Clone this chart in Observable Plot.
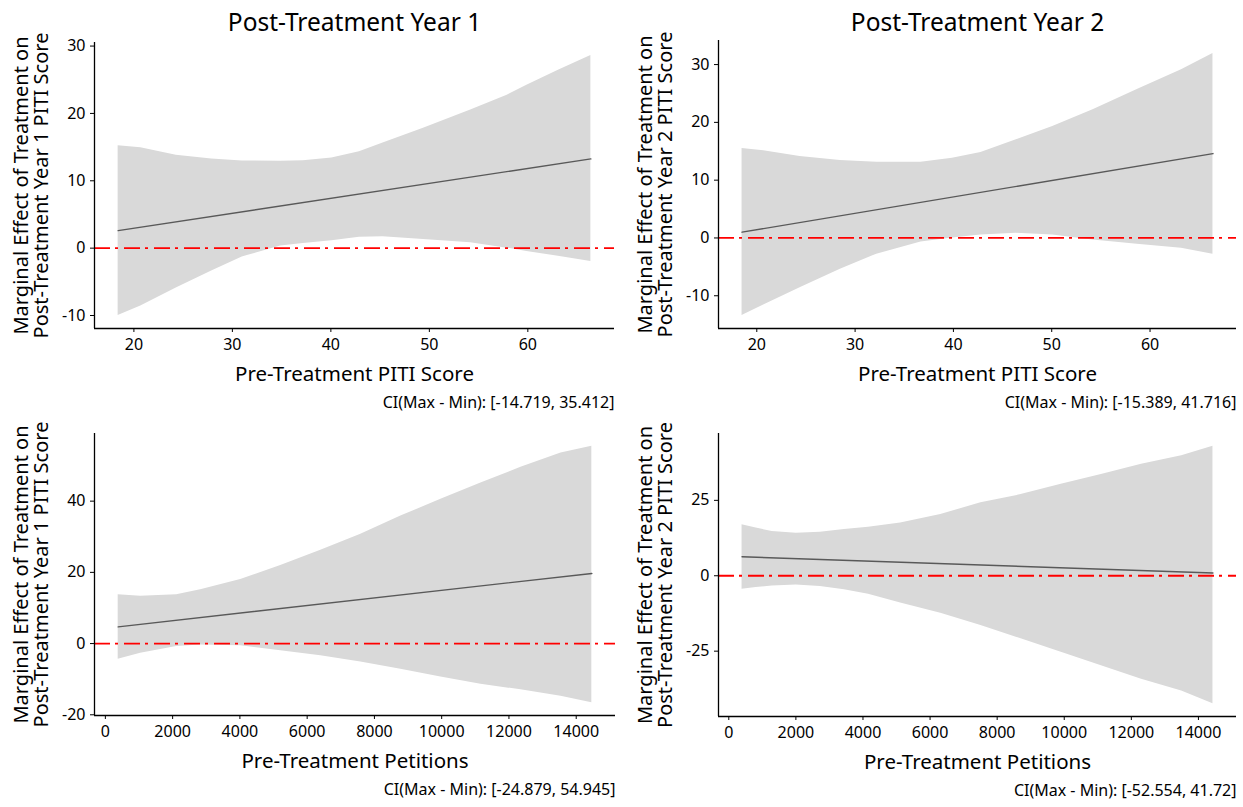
<!DOCTYPE html>
<html>
<head>
<meta charset="utf-8">
<script src="https://cdn.jsdelivr.net/npm/d3@7"></script>
<script src="https://cdn.jsdelivr.net/npm/@observablehq/plot@0.6"></script>
<style>
  html, body { margin: 0; padding: 0; background: white; }
  #page { position: relative; width: 1243px; height: 807px; font-family: "Noto Sans", sans-serif; }
  .panel { position: absolute; }
</style>
</head>
<body>
<div id="page"></div>
<script>
// ---------- Data ----------
// Panel 1: Post-Treatment Year 1 vs Pre-Treatment PITI Score
const p1X     = [18.4, 20.7, 24.3, 27.9, 31.0, 34.9, 37.2, 40.1, 42.9, 45.3, 49.4, 54.2, 57.9, 59.9, 63.1, 66.4];
const p1Upper = [15.2, 14.9, 13.8, 13.25, 12.95, 12.9, 12.96, 13.4, 14.3, 15.6, 17.8, 20.5, 22.7, 24.2, 26.4, 28.6];
const p1Lower = [-10.0, -8.6, -5.9, -3.4, -1.3, 0.3, 0.7, 1.1, 1.6, 1.7, 1.3, 0.8, 0.0, -0.5, -1.2, -2.0];
const p1MeanX = [18.4, 66.4];
const p1MeanY = [2.6, 13.25];

// Panel 2: Post-Treatment Year 2 vs Pre-Treatment PITI Score
const p2X     = [18.5, 20.7, 24.4, 28.5, 32.2, 36.7, 39.9, 42.8, 46.4, 50.1, 54.2, 58.7, 63.2, 66.4];
const p2Upper = [15.5, 15.1, 14.1, 13.4, 13.1, 13.1, 13.8, 14.8, 17.0, 19.3, 22.2, 25.7, 29.1, 31.9];
const p2Lower = [-13.4, -11.6, -8.6, -5.4, -2.8, -0.7, 0.0, 0.5, 0.8, 0.5, -0.35, -1.1, -1.8, -2.8];
const p2MeanX = [18.5, 66.4];
const p2MeanY = [1.0, 14.6];

// Panel 3: Post-Treatment Year 1 vs Pre-Treatment Petitions
const p3X     = [381, 1048, 2119, 2833, 4024, 5214, 6405, 7595, 8786, 9976, 11167, 12357, 13548, 14464];
const p3Upper = [13.7, 13.3, 13.7, 15.1, 18.0, 21.9, 26.2, 30.7, 35.8, 40.5, 45.1, 49.5, 53.5, 55.4];
const p3Lower = [-4.4, -2.7, -0.8, -0.4, -0.6, -2.0, -3.4, -5.2, -7.2, -9.4, -11.4, -13.0, -14.8, -16.6];
const p3MeanX = [381, 14464];
const p3MeanY = [4.7, 19.7];

// Panel 4: Post-Treatment Year 2 vs Pre-Treatment Petitions
const p4X     = [395, 814, 1293, 2011, 2729, 3447, 4165, 5122, 6319, 7516, 8713, 9910, 11107, 12304, 13501, 14433];
const p4Upper = [16.9, 15.8, 14.7, 14.1, 14.4, 15.3, 16.1, 17.5, 20.3, 24.2, 26.9, 30.3, 33.6, 37.0, 39.8, 42.9];
const p4Lower = [-4.5, -3.9, -3.4, -3.1, -3.6, -4.6, -6.1, -9.0, -12.4, -16.5, -20.9, -25.4, -29.8, -34.3, -38.2, -42.4];
const p4MeanX = [395, 14433];
const p4MeanY = [6.3, 0.9];

// Tick values
const pitiTicks = [20, 30, 40, 50, 60];
const petitionTicks = [0, 2000, 4000, 6000, 8000, 10000, 12000, 14000];
const p1YTicks = [-10, 0, 10, 20, 30];
const p2YTicks = [-10, 0, 10, 20, 30];
const p3YTicks = [-20, 0, 20, 40];
const p4YTicks = [-25, 0, 25];

// Texts
const titles = ["Post-Treatment Year 1", "Post-Treatment Year 2"];
const yLabels = [
  "Marginal Effect of Treatment on\nPost-Treatment Year 1 PITI Score",
  "Marginal Effect of Treatment on\nPost-Treatment Year 2 PITI Score"
];
const xLabels = ["Pre-Treatment PITI Score", "Pre-Treatment Petitions"];
const ciTexts = [
  "CI(Max - Min): [-14.719, 35.412]",
  "CI(Max - Min): [-15.389, 41.716]",
  "CI(Max - Min): [-24.879, 54.945]",
  "CI(Max - Min): [-52.554, 41.72]"
];

// ---------- Drawing ----------
function pad(e) { const r = e[1] - e[0]; return [e[0] - 0.05 * r, e[1] + 0.05 * r]; }

function panel(cfg) {
  const ribbon = cfg.xs.map((x, i) => ({x, lo: cfg.lo[i], hi: cfg.hi[i]}));
  const mean = cfg.meanX.map((x, i) => ({x, y: cfg.meanY[i]}));
  const xDom = pad(d3.extent(cfg.xs));
  const yDom = pad([d3.min(cfg.lo), d3.max(cfg.hi)]);
  const marks = [
    Plot.areaY(ribbon, {x: "x", y1: "lo", y2: "hi", fill: "#d9d9d9"}),
    Plot.lineY(mean, {x: "x", y: "y", stroke: "#595959", strokeWidth: 1.4}),
    Plot.ruleY([0], {stroke: "red", strokeWidth: 1.8, strokeDasharray: "16,5,3,6"}),
    Plot.ruleY([yDom[0]], {stroke: "black", strokeWidth: 1.3}),
    Plot.ruleX([xDom[0]], {stroke: "black", strokeWidth: 1.3}),
    Plot.axisX(cfg.xTicks, {tickFormat: d => String(d), tickSize: 4, tickPadding: 6, fontSize: 16, label: null}),
    Plot.axisY(cfg.yTicks, {tickFormat: d => String(d), tickSize: 4, tickPadding: 5, fontSize: 16, label: null}),
    Plot.text([cfg.ylab], {frameAnchor: "left", rotate: -90, dx: -63, fontSize: 20, lineHeight: 1.0, textAnchor: "middle"}),
    Plot.text([cfg.xlab], {frameAnchor: "bottom", dy: 52, fontSize: 20.5}),
    Plot.text([cfg.ci], {frameAnchor: "bottom-right", textAnchor: "end", dy: cfg.ciDy, fontSize: 16})
  ];
  if (cfg.title) {
    marks.push(Plot.text([cfg.title], {frameAnchor: "top", dy: cfg.titleDy, fontSize: 24.5}));
  }
  return Plot.plot({
    width: cfg.width, height: cfg.height,
    marginTop: cfg.mt, marginBottom: cfg.mb, marginLeft: cfg.ml, marginRight: cfg.mr,
    style: {background: "transparent", overflow: "visible", fontFamily: "'Noto Sans', sans-serif", color: "black"},
    x: {domain: xDom},
    y: {domain: yDom},
    marks
  });
}

const page = document.getElementById("page");
function place(node, left, top) {
  const d = document.createElement("div");
  d.className = "panel";
  d.style.left = left + "px";
  d.style.top = top + "px";
  d.appendChild(node);
  page.appendChild(d);
}

place(panel({xs: p1X, lo: p1Lower, hi: p1Upper, meanX: p1MeanX, meanY: p1MeanY,
  xTicks: pitiTicks, yTicks: p1YTicks, title: titles[0], ylab: yLabels[0], xlab: xLabels[0], ci: ciTexts[0],
  width: 620, height: 412, mt: 42, mb: 84, ml: 94, mr: 6, titleDy: -29, ciDy: 79}), 0, 0);

place(panel({xs: p2X, lo: p2Lower, hi: p2Upper, meanX: p2MeanX, meanY: p2MeanY,
  xTicks: pitiTicks, yTicks: p2YTicks, title: titles[1], ylab: yLabels[1], xlab: xLabels[0], ci: ciTexts[1],
  width: 623, height: 412, mt: 40, mb: 84, ml: 98, mr: 7, titleDy: -27, ciDy: 79}), 620, 0);

place(panel({xs: p3X, lo: p3Lower, hi: p3Upper, meanX: p3MeanX, meanY: p3MeanY,
  xTicks: petitionTicks, yTicks: p3YTicks, ylab: yLabels[0], xlab: xLabels[1], ci: ciTexts[2],
  width: 620, height: 395, mt: 21, mb: 92, ml: 94, mr: 5, ciDy: 79}), 0, 412);

place(panel({xs: p4X, lo: p4Lower, hi: p4Upper, meanX: p4MeanX, meanY: p4MeanY,
  xTicks: petitionTicks, yTicks: p4YTicks, ylab: yLabels[1], xlab: xLabels[1], ci: ciTexts[3],
  width: 623, height: 395, mt: 21, mb: 91, ml: 98, mr: 7, ciDy: 79}), 620, 412);
</script>
</body>
</html>
